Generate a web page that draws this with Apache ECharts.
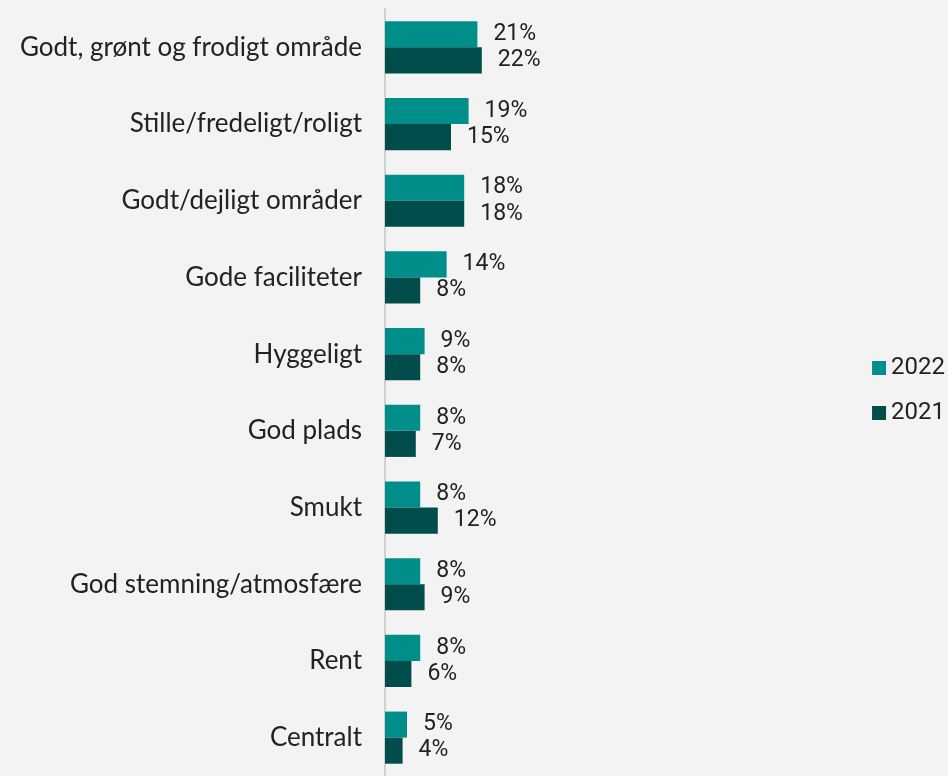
<!DOCTYPE html>
<html><head><meta charset="utf-8">
<style>html,body{margin:0;padding:0;background:#f3f3f3;}#c{width:948px;height:776px;}</style>
<script src="https://cdn.jsdelivr.net/npm/echarts@6/dist/echarts.min.js"></script>
</head><body><div id="c"></div>
<script>
const categories = ["Godt, grønt og frodigt område","Stille/fredeligt/roligt","Godt/dejligt områder","Gode faciliteter","Hyggeligt","God plads","Smukt","God stemning/atmosfære","Rent","Centralt"];
const values2022 = [21,19,18,14,9,8,8,8,8,5];
const values2021 = [22,15,18,8,8,7,12,9,6,4];
const seriesNames = ["2022","2021"];

const chart = echarts.init(document.getElementById('c'));
const labelCfg = {show:true, position:'right', distance:16, formatter:'{c}%', color:'#222', fontFamily:'Roboto', fontSize:23};
chart.setOption({
  backgroundColor:'#f3f3f3',
  animation:false,
  legend:{orient:'vertical', right:3, top:356, padding:0, icon:'rect', itemWidth:14, itemHeight:14, itemGap:21,
    textStyle:{fontFamily:'Roboto', fontSize:24, color:'#222'}, data:seriesNames},
  grid:{left:385, top:9, bottom:0, width:440, containLabel:false},
  xAxis:{type:'value', min:0, max:100, show:false},
  yAxis:{type:'category', inverse:true, data:categories,
    axisLine:{show:true, lineStyle:{color:'#d0d0d0', width:2}}, axisTick:{show:false},
    axisLabel:{fontFamily:'Lato', fontSize:26, color:'#222', margin:23}},
  series:[
    {name:seriesNames[0], type:'bar', data:values2022, itemStyle:{color:'#008e8b'}, barGap:'0%', barCategoryGap:'32%', label:labelCfg},
    {name:seriesNames[1], type:'bar', data:values2021, itemStyle:{color:'#004d4c'}, barGap:'0%', barCategoryGap:'32%', label:labelCfg}
  ]
});
</script></body></html>
